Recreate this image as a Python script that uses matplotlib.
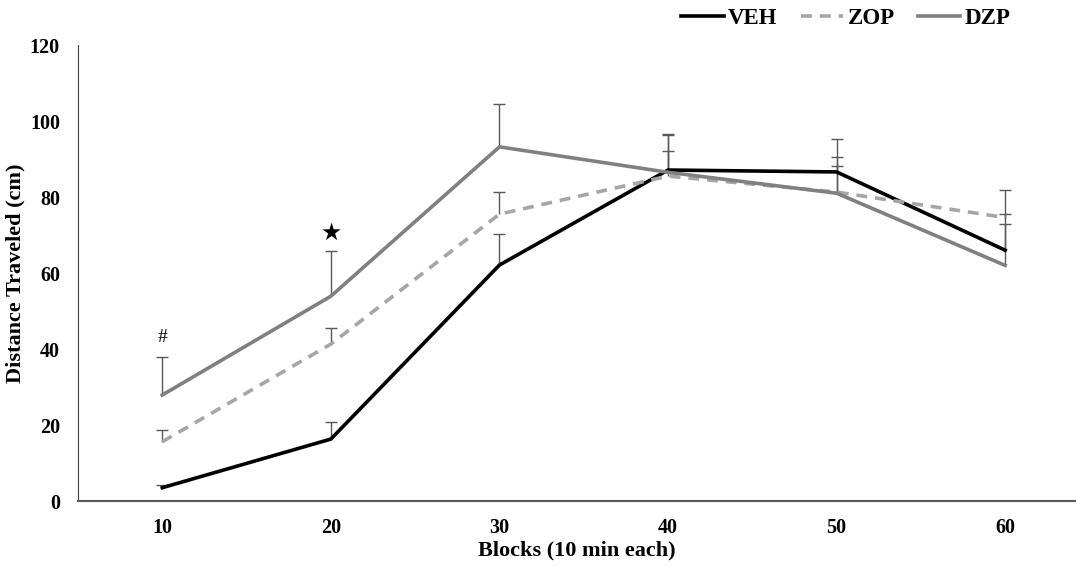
import matplotlib
matplotlib.use("Agg")
import matplotlib.pyplot as plt

# ===== data =====
blocks = [10, 20, 30, 40, 50, 60]
veh = [3.5, 16.3, 62.1, 87.1, 86.6, 66.0]
zop = [15.6, 41.3, 75.5, 85.5, 81.3, 74.6]
dzp = [27.9, 53.9, 93.2, 86.5, 81.0, 62.0]
# upper error (SEM) shown only above the mean
veh_err = [0.7, 4.4, 8.2, 9.5, 4.0, 7.0]
zop_err = [3.1, 4.1, 5.9, 6.7, 6.9, 0.8]
dzp_err = [10.0, 11.9, 11.2, 9.8, 14.3, 19.8]

plt.rcParams["font.family"] = ["Liberation Serif", "DejaVu Serif"]
plt.rcParams["font.weight"] = "bold"

fig = plt.figure(figsize=(10.76, 5.67), dpi=100)
ax = fig.add_axes([0.0725, 0.1164, 0.9275, 0.8042])

series = [
    ("VEH", veh, veh_err, "#000000", "-"),
    ("ZOP", zop, zop_err, "#a6a6a6", (0, (3, 2.2))),
    ("DZP", dzp, dzp_err, "#808080", "-"),
]
for name, vals, err, col, ls in series:
    _, caps, _ = ax.errorbar(blocks, vals, yerr=[[0] * len(err), err], fmt="none",
                             ecolor="#595959", elinewidth=1.0, capsize=4,
                             capthick=1.0, zorder=2)
    caps[0].set_visible(False)  # 只要上方的横线
    ax.plot(blocks, vals, color=col, linestyle=ls, linewidth=2.6,
            label=name, zorder=3, solid_joinstyle="miter")

# significance marks
ax.text(10, 43, "#", ha="center", va="center", fontsize=14, fontweight="normal")
ax.text(20, 70.5, "\u2605", ha="center", va="center", fontsize=17,
        family=["DejaVu Sans"])

ax.set_xlim(5, 64.2)
ax.set_ylim(0, 120)
ax.set_xticks(blocks)
ax.set_yticks(range(0, 121, 20))
ax.tick_params(length=0, labelsize=14.5)
ax.tick_params(axis="x", pad=12)
ax.tick_params(axis="y", pad=13)
for s in ["top", "right"]:
    ax.spines[s].set_visible(False)
ax.spines["left"].set_color("#404040")
ax.spines["bottom"].set_color("#595959")
ax.spines["bottom"].set_linewidth(1.5)

ax.set_xlabel("Blocks (10 min each)", fontsize=16, fontweight="bold", labelpad=2)
ax.set_ylabel("Distance Traveled (cm)", fontsize=16, fontweight="bold", labelpad=3)

ax.legend(loc="lower right", bbox_to_anchor=(0.947, 1.007), ncol=3, frameon=False,
          fontsize=16.5, handlelength=1.85, handletextpad=0.2, columnspacing=1.0,
          borderaxespad=0.15)

fig.savefig("out.png", dpi=100)
